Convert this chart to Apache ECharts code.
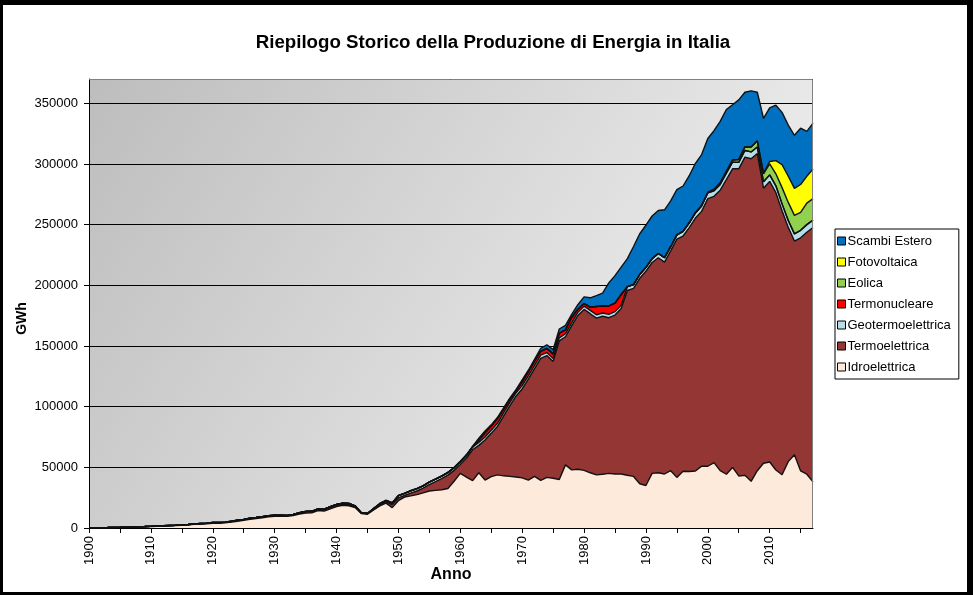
<!DOCTYPE html>
<html><head><meta charset="utf-8">
<script src="https://cdn.jsdelivr.net/npm/echarts@6/dist/echarts.min.js"></script>
<style>
html,body{margin:0;padding:0;background:#000;width:973px;height:595px;overflow:hidden}
#frame{position:absolute;left:3px;top:5px;width:964px;height:587px;background:#fff}
#chart{position:absolute;left:0;top:0;width:973px;height:595px}
</style></head><body>
<div id="frame"></div><div id="chart"></div>
<script>
const years = [];
for (let y = 1900; y <= 2017; y++) years.push(String(y));

const idro = [
100,150,200,280,370,470,600,750,900,1050,
1250,1450,1650,1850,2050,2300,2600,3000,3300,3500,
3900,3900,4200,4800,5600,6300,7100,7700,8400,9300,
9700,9700,9600,10300,11500,12400,12500,14400,14000,15800,
17600,18700,18300,16800,12000,11300,14800,18200,20500,16800,
22500,25500,26500,27500,29000,30500,31000,31500,32500,38500,
45000,42000,39000,45500,39500,42300,43800,43000,42500,42000,
41300,39500,42500,39300,41700,41000,40000,52000,47900,48400,
47500,45500,43800,44300,45000,44500,44500,43500,42500,36500,
35000,45000,45500,44500,47200,41700,46800,46500,47000,51000,
50900,53900,47300,44300,49900,42900,43400,38500,47200,53400,
54400,47800,43900,54700,60300,47000,44300,38000];

const termo = [
50,60,70,80,90,100,110,120,130,150,
150,170,190,210,230,250,250,300,300,350,
500,500,550,600,650,700,750,800,800,600,
500,500,500,600,800,900,800,800,900,1000,
1000,800,800,700,500,600,800,900,1000,2500,
2300,1300,2200,3000,3800,5300,7200,9200,11100,9000,
7400,15700,25500,22600,33000,35700,39900,49200,58200,66600,
73300,83200,88800,100500,100400,96200,114200,105600,118600,126700,
132600,131100,129100,130200,128300,131000,136300,152200,155000,169300,
176600,173800,177200,174600,181200,196400,193800,201000,208400,209900,
220500,219400,231100,242800,246100,253100,262200,265800,261300,226600,
231200,228500,217600,193000,176200,192100,199400,209500];

const geo = [
0,0,0,0,0,0,0,0,0,0,
0,0,0,10,20,30,40,50,60,70,
80,90,100,110,120,130,150,170,200,230,
250,280,300,320,350,400,450,500,600,700,
900,1000,1100,800,50,100,500,900,1100,1300,
1800,1800,1900,1900,1900,2000,2000,2000,2000,2100,
2100,2200,2300,2400,2500,2500,2600,2600,2600,2700,
2700,2700,2600,2600,2500,2500,2500,2500,2600,2600,
2700,2700,2800,2700,2800,2800,2800,3000,3100,3100,
3200,3200,3500,3700,3400,3400,3800,3900,4200,4400,
4700,4500,4700,5300,5400,5300,5500,5600,5500,5300,
5400,5700,5600,5700,5900,6200,6300,6200];

const nucleare = [
0,0,0,0,0,0,0,0,0,0,
0,0,0,0,0,0,0,0,0,0,
0,0,0,0,0,0,0,0,0,0,
0,0,0,0,0,0,0,0,0,0,
0,0,0,0,0,0,0,0,0,0,
0,0,0,0,0,0,0,0,0,0,
0,0,0,2000,3500,3500,3900,3200,2700,1700,
3200,3400,3600,3100,3400,3800,3800,3400,4400,2600,
2200,2700,6800,5800,6900,7000,8800,200,0,0,
0,0,0,0,0,0,0,0,0,0,
0,0,0,0,0,0,0,0,0,0,
0,0,0,0,0,0,0,0];

const eolica = [
0,0,0,0,0,0,0,0,0,0,
0,0,0,0,0,0,0,0,0,0,
0,0,0,0,0,0,0,0,0,0,
0,0,0,0,0,0,0,0,0,0,
0,0,0,0,0,0,0,0,0,0,
0,0,0,0,0,0,0,0,0,0,
0,0,0,0,0,0,0,0,0,0,
0,0,0,0,0,0,0,0,0,0,
0,0,0,0,0,0,0,0,0,0,
0,0,0,0,0,10,30,120,230,400,
600,1200,1400,1500,1800,2300,3000,4000,4900,6500,
9100,9900,13400,14900,15200,14800,17700,17700];

const fotovoltaica = [
0,0,0,0,0,0,0,0,0,0,
0,0,0,0,0,0,0,0,0,0,
0,0,0,0,0,0,0,0,0,0,
0,0,0,0,0,0,0,0,0,0,
0,0,0,0,0,0,0,0,0,0,
0,0,0,0,0,0,0,0,0,0,
0,0,0,0,0,0,0,0,0,0,
0,0,0,0,0,0,0,0,0,0,
0,0,0,0,0,0,0,0,0,0,
0,0,0,0,0,0,0,0,0,0,
6,5,4,5,4,4,2,39,193,676,
1906,10796,18862,21589,22306,22942,22104,24378];

const scambi = [
0,0,0,0,0,0,0,0,0,0,
0,0,0,0,0,0,0,0,0,0,
0,0,0,0,0,0,0,0,0,0,
0,0,0,0,0,0,0,0,0,0,
0,0,0,0,0,0,100,200,300,300,
200,100,300,300,300,300,300,300,400,400,
500,600,700,1500,1500,1000,800,1000,1000,1000,
1500,1200,1500,2500,3000,3500,3500,3500,2500,3700,
5500,7700,9000,10500,19000,22700,22600,23100,31400,33600,
34700,35100,35400,39400,37700,37400,37400,38800,40700,42000,
44300,48400,50600,51000,45600,49200,45000,46300,40000,45000,
44200,45700,43100,42100,43700,46400,37000,37800];

const seriesNames = ['Idroelettrica','Termoelettrica','Geotermoelettrica','Termonucleare','Eolica','Fotovoltaica','Scambi Estero'];
const seriesColors = ['#FDEADA','#943634','#B7DEE8','#FF0000','#92D050','#FFFF00','#0070C0'];
const seriesData = [idro, termo, geo, nucleare, eolica, fotovoltaica, scambi];
const legendOrder = ['Scambi Estero','Fotovoltaica','Eolica','Termonucleare','Geotermoelettrica','Termoelettrica','Idroelettrica'];

const FONT = 'Arial, "Liberation Sans", sans-serif';
const chart = echarts.init(document.getElementById('chart'), null, {renderer:'canvas'});

const series = seriesNames.map((n, i) => ({
  name: n,
  type: 'line',
  stack: 'total',
  data: seriesData[i],
  symbol: 'none',
  color: seriesColors[i],
  lineStyle: { color: '#111', width: 1.4 },
  areaStyle: { color: seriesColors[i], opacity: 1 },
  itemStyle: { color: seriesColors[i] },
  emphasis: { disabled: true },
  animation: false
}));

chart.setOption({
  backgroundColor: 'transparent',
  animation: false,
  title: {
    text: 'Riepilogo Storico della Produzione di Energia in Italia',
    left: 488, top: 28, textAlign: 'center',
    textStyle: { fontFamily: FONT, fontSize: 18.7, fontWeight: 'bold', color: '#000' }
  },
  grid: {
    left: 89, right: 160, top: 79, bottom: 67,
    show: true, borderWidth: 0,
    backgroundColor: { type: 'linear', x: 0, y: 0, x2: 1, y2: 1,
      colorStops: [{ offset: 0, color: '#bdbdbd' }, { offset: 1, color: '#f8f8f8' }] }
  },
  legend: {
    orient: 'vertical', left: 835, top: 229,
    data: legendOrder,
    icon: 'rect', itemWidth: 8, itemHeight: 8, itemGap: 7,
    padding: [5, 8, 5, 2],
    backgroundColor: '#fff', borderColor: '#000', borderWidth: 1,
    itemStyle: { borderColor: '#000', borderWidth: 1 },
    textStyle: { fontFamily: FONT, fontSize: 13, color: '#000', lineHeight: 14, padding: [0,0,0,-3] },
    selectedMode: false
  },
  xAxis: {
    type: 'category', data: years, boundaryGap: false,
    name: 'Anno', nameLocation: 'middle', nameGap: 39, nameMoveOverlap: false,
    nameTextStyle: { fontFamily: FONT, fontSize: 16, fontWeight: 'bold', color: '#000' },
    axisLine: { lineStyle: { color: '#000', width: 1 } },
    axisTick: { show: true, interval: (i) => i % 5 === 0, length: 5, lineStyle: { color: '#000' } },
    axisLabel: { interval: (i) => i % 10 === 0, rotate: 90, margin: 8,
      fontFamily: FONT, fontSize: 13, color: '#000' },
    splitLine: { show: false }
  },
  yAxis: {
    type: 'value', min: 0, max: 370000, interval: 50000,
    name: 'GWh', nameLocation: 'middle', nameGap: 60, nameRotate: 90, nameMoveOverlap: false,
    nameTextStyle: { fontFamily: FONT, fontSize: 14, fontWeight: 'bold', color: '#000', padding: [0, 30, 0, 0] },
    axisLine: { show: true, lineStyle: { color: '#000', width: 1 } },
    axisTick: { show: true, length: 5, lineStyle: { color: '#000' } },
    axisLabel: { margin: 11, fontFamily: FONT, fontSize: 13, color: '#000', showMaxLabel: false,
      formatter: (v) => String(v) },
    splitLine: { show: true, lineStyle: { color: '#000', width: 1 } }
  },
  graphic: [{
    type: 'polyline', z: 100, silent: true,
    shape: { points: [[89, 79.5], [812.5, 79.5], [812.5, 528]] },
    style: { stroke: '#808080', lineWidth: 1, fill: null }
  }],
  series: series
});
</script></body></html>
